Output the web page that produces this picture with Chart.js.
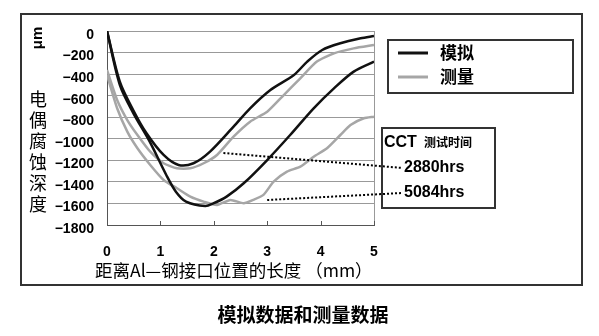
<!DOCTYPE html>
<html><head><meta charset="utf-8">
<script src="https://cdn.jsdelivr.net/npm/chart.js@4/dist/chart.umd.min.js"></script>
<style>html,body{margin:0;padding:0;background:#fff;}#wrap{width:599px;height:336px;position:relative;}</style>
</head><body><div id="wrap"><canvas id="c" width="599" height="336"></canvas></div>
<script>
// ---- data ----
const sim2880X = [0, 0.24, 0.49, 0.74, 1.06, 1.34, 1.62, 1.93, 2.37, 2.68, 3.06, 3.5, 3.75, 4.03, 4.37, 4.75, 5.0];
const sim2880Y = [0, -470, -733, -949, -1150, -1243, -1227, -1119, -887, -717, -547, -408, -284, -176, -114, -68, -46];
const sim5084X = [0, 0.24, 0.49, 0.8, 1.11, 1.29, 1.48, 1.84, 1.99, 2.24, 2.56, 3.0, 3.43, 3.87, 4.25, 4.62, 5.0];
const sim5084Y = [0, -500, -760, -1027, -1336, -1491, -1583, -1624, -1600, -1537, -1413, -1197, -965, -717, -532, -377, -284];
const meas2880X = [0, 0.19, 0.38, 0.57, 0.81, 1.06, 1.31, 1.56, 1.81, 2.06, 2.37, 2.68, 3.0, 3.31, 3.62, 3.93, 4.25, 4.62, 5.0];
const meas2880Y = [-362, -640, -826, -965, -1120, -1227, -1274, -1274, -1227, -1150, -980, -841, -749, -594, -439, -284, -207, -161, -130];
const meas5084X = [0, 0.19, 0.38, 0.57, 0.81, 1.06, 1.31, 1.56, 1.81, 2.06, 2.31, 2.56, 2.74, 2.93, 3.12, 3.37, 3.62, 3.87, 4.12, 4.37, 4.56, 4.81, 5.0];
const meas5084Y = [-408, -717, -934, -1088, -1243, -1382, -1459, -1537, -1583, -1614, -1567, -1598, -1567, -1521, -1398, -1305, -1259, -1166, -1088, -965, -872, -810, -795];
const yTickValues = [0, -200, -400, -600, -800, -1000, -1200, -1400, -1600, -1800];
const xTickValues = [0, 1, 2, 3, 4, 5];
const legendLabels = ['模拟', '测量'];
const cctTitle = 'CCT';
const cctSub = '测试时间';
const hoursLabels = ['2880hrs', '5084hrs'];
// annotation leader lines (data coordinates)
const leader2880 = [[2.18, -1132], [5.53, -1271]];
const leader5084 = [[3.0, -1568], [5.53, -1503]];
const yTitle = 'μm';
const yTitleCJK = '电偶腐蚀深度';
const xTitle = '距离Al—钢接口位置的长度 （mm）';
const mainTitle = '模拟数据和测量数据';

const BLACK = '#111111', GREY = '#a6a6a6';
const pts = (xs, ys) => xs.map((x, i) => ({x, y: ys[i]}));

const CJK = "'Noto Sans CJK SC'";
const SANS = "'Liberation Sans', Arial";

const deco = {
  id: 'deco',
  afterDatasetsDraw(chart) {
    const {ctx, chartArea: a, scales: {x, y}} = chart;
    ctx.save();
    // right border of plot
    ctx.strokeStyle = '#999'; ctx.lineWidth = 1;
    ctx.beginPath(); ctx.moveTo(a.right + 0.5, a.top); ctx.lineTo(a.right + 0.5, a.bottom); ctx.stroke();
    // inner tick marks on x axis
    ctx.strokeStyle = '#555';
    xTickValues.forEach(v => {
      const px = Math.round(x.getPixelForValue(v)) + 0.5;
      ctx.beginPath(); ctx.moveTo(px, a.bottom); ctx.lineTo(px, a.bottom - 4); ctx.stroke();
    });
    // leader lines
    ctx.strokeStyle = '#000'; ctx.lineWidth = 2; ctx.setLineDash([2, 2]);
    [leader2880, leader5084].forEach(l => {
      ctx.beginPath();
      ctx.moveTo(x.getPixelForValue(l[0][0]), y.getPixelForValue(l[0][1]));
      ctx.lineTo(x.getPixelForValue(l[1][0]), y.getPixelForValue(l[1][1]));
      ctx.stroke();
    });
    ctx.setLineDash([]);
    ctx.restore();
  },
  afterDraw(chart) {
    const {ctx, scales: {x, y}} = chart;
    ctx.save();
    // outer frame
    ctx.strokeStyle = '#333'; ctx.lineWidth = 2;
    ctx.strokeRect(21, 14, 561, 271);
    // legend box
    ctx.strokeRect(388, 40, 185, 53);
    const ds = chart.data.datasets;
    [[ds[0], 53], [ds[2], 77]].forEach(([d, yy], i) => {
      ctx.strokeStyle = d.borderColor; ctx.lineWidth = 3;
      ctx.beginPath(); ctx.moveTo(398, yy); ctx.lineTo(428, yy); ctx.stroke();
      ctx.fillStyle = '#000'; ctx.font = `bold 17px ${CJK}`;
      ctx.textAlign = 'left'; ctx.textBaseline = 'middle';
      ctx.fillText(legendLabels[i], 440, yy);
    });
    // CCT box
    ctx.strokeStyle = '#333'; ctx.lineWidth = 2;
    ctx.strokeRect(382, 128, 113, 80);
    ctx.fillStyle = '#000'; ctx.textAlign = 'left'; ctx.textBaseline = 'middle';
    ctx.font = `bold 16px ${SANS}`;
    ctx.fillText(cctTitle, 384, 143);
    ctx.font = `bold 12px ${CJK}`;
    ctx.fillText(cctSub, 424, 142);
    ctx.font = `bold 16px ${SANS}`;
    ctx.fillText(hoursLabels[0], 404, 168);
    ctx.fillText(hoursLabels[1], 404, 193);
    // y title: μm rotated
    ctx.save();
    ctx.translate(38, 38); ctx.rotate(-Math.PI / 2);
    ctx.font = `bold 15px ${SANS}`; ctx.textAlign = 'center'; ctx.textBaseline = 'middle';
    ctx.fillText(yTitle, 0, 0);
    ctx.restore();
    // vertical CJK title
    ctx.font = `18px ${CJK}`; ctx.textAlign = 'center'; ctx.textBaseline = 'middle';
    [...yTitleCJK].forEach((ch, i) => ctx.fillText(ch, 38, 99 + i * 21));
    // x title
    ctx.textAlign = 'left';
    ctx.font = `17.5px ${CJK}`;
    ctx.fillText(xTitle, 95, 270);
    // main title
    ctx.textAlign = 'center';
    ctx.font = `bold 19px ${CJK}`;
    ctx.fillText(mainTitle, 303, 315);
    ctx.restore();
  }
};

new Chart(document.getElementById('c'), {
  type: 'line',
  data: {
    datasets: [
      {label: '模拟 2880hrs', data: pts(sim2880X, sim2880Y), borderColor: BLACK, borderWidth: 2.5, tension: 0.3},
      {label: '模拟 5084hrs', data: pts(sim5084X, sim5084Y), borderColor: BLACK, borderWidth: 2.5, tension: 0.3},
      {label: '测量 2880hrs', data: pts(meas2880X, meas2880Y), borderColor: GREY, borderWidth: 2.5, tension: 0.2},
      {label: '测量 5084hrs', data: pts(meas5084X, meas5084Y), borderColor: GREY, borderWidth: 2.5, tension: 0.2}
    ]
  },
  options: {
    responsive: false, animation: false,
    elements: {point: {radius: 0}},
    layout: {padding: {left: 0, top: 31, right: 225, bottom: 0}},
    plugins: {legend: {display: false}, tooltip: {enabled: false}},
    scales: {
      x: {
        type: 'linear', min: 0, max: 5,
        afterFit: s => { s.height = 111; },
        afterBuildTicks: s => { s.ticks = xTickValues.map(v => ({value: v})); },
        grid: {display: false, drawTicks: false},
        border: {color: '#555', width: 1},
        ticks: {padding: 19, color: '#000', font: {family: SANS, size: 14, weight: 'bold'}}
      },
      y: {
        type: 'linear', min: -1800, max: 0,
        afterFit: s => { s.width = 107; },
        afterBuildTicks: s => { s.ticks = yTickValues.map(v => ({value: v})); },
        grid: {color: '#999', lineWidth: 1, drawTicks: false},
        border: {color: '#555', width: 1},
        ticks: {padding: 13, labelOffset: 4, color: '#000',
          font: {family: SANS, size: 14, weight: 'bold'},
          callback: v => v === 0 ? '0' : '\u2212' + Math.abs(v)}
      }
    }
  },
  plugins: [deco]
});
</script></body></html>
